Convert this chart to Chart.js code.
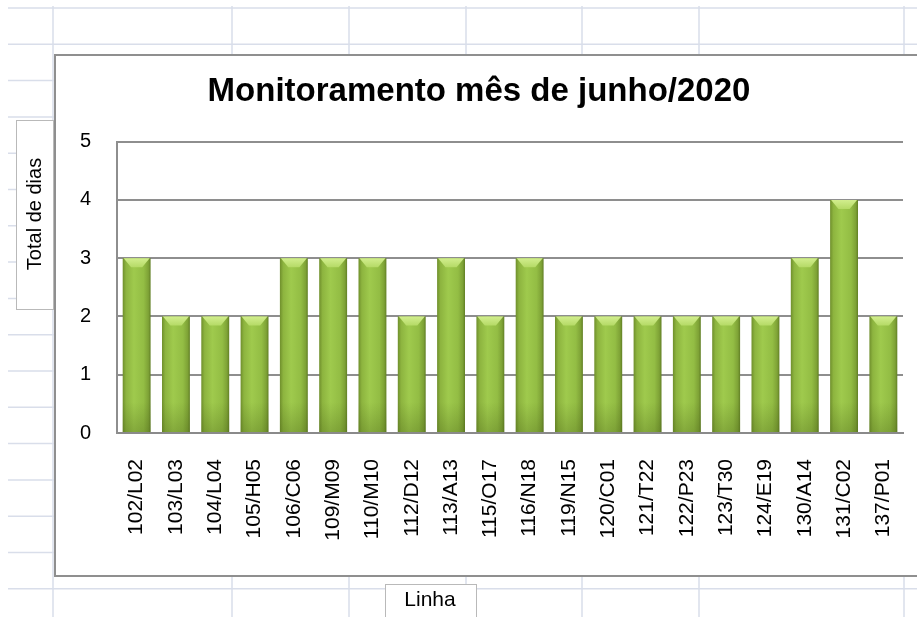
<!DOCTYPE html>
<html>
<head>
<meta charset="utf-8">
<title>Monitoramento</title>
<script src="https://cdn.jsdelivr.net/npm/chart.js@4.4.0/dist/chart.umd.min.js"></script>
<style>
  body { margin: 0; background: #fff; }
  canvas { display: block; }
</style>
</head>
<body>
<canvas id="grafico" width="917" height="617"></canvas>
<script>
// dados
var linhas = ['102/L02', '103/L03', '104/L04', '105/H05', '106/C06', '109/M09', '110/M10', '112/D12',
  '113/A13', '115/O17', '116/N18', '119/N15', '120/C01', '121/T22', '122/P23', '123/T30',
  '124/E19', '130/A14', '131/C02', '137/P01'];
var totalDias = [3, 2, 2, 2, 3, 3, 3, 2, 3, 2, 3, 2, 2, 2, 2, 2, 2, 3, 4, 2];
var ticksY = [0, 1, 2, 3, 4, 5];

var tituloGrafico = 'Monitoramento mês de junho/2020';
var tituloY = 'Total de dias';
var tituloX = 'Linha';

var fonte = '"Liberation Sans", Arial, sans-serif';
var larguraBarra = 0.71;

// fundo de planilha, moldura do gráfico e caixas dos títulos dos eixos
var fundoPlanilha = {
  id: 'fundoPlanilha',
  beforeDraw: function(chart) {
    var ctx = chart.ctx;
    ctx.save();
    ctx.fillStyle = '#fff';
    ctx.fillRect(0, 0, chart.width, chart.height);

    ctx.strokeStyle = '#d9deea';
    ctx.lineWidth = 1.5;
    for (var y = 8; y < chart.height; y += 36.3) {
      ctx.beginPath(); ctx.moveTo(8, y); ctx.lineTo(chart.width, y); ctx.stroke();
    }
    [53, 232, 349, 466, 582, 699, 904].forEach(function(x) {
      ctx.beginPath(); ctx.moveTo(x, 6); ctx.lineTo(x, chart.height); ctx.stroke();
    });

    // área do gráfico
    ctx.fillStyle = '#fff';
    ctx.fillRect(55, 55, chart.width, 521);
    ctx.strokeStyle = '#8f8f8f';
    ctx.lineWidth = 2;
    ctx.strokeRect(55, 55, chart.width, 521);

    // caixa do título Y
    ctx.fillStyle = '#fff';
    ctx.fillRect(16, 120, 37, 189);
    ctx.strokeStyle = '#b9b9b9';
    ctx.lineWidth = 1;
    ctx.strokeRect(16.5, 120.5, 37, 189);

    // caixa do título X
    ctx.fillRect(385, 584, 91, 40);
    ctx.strokeRect(385.5, 584.5, 91, 40);

    ctx.fillStyle = '#000';
    ctx.font = '20px ' + fonte;
    ctx.textAlign = 'center';
    ctx.textBaseline = 'middle';
    ctx.save();
    ctx.translate(35, 214);
    ctx.rotate(-Math.PI / 2);
    ctx.fillText(tituloY, 0, 0);
    ctx.restore();

    ctx.font = '21px ' + fonte;
    ctx.fillText(tituloX, 430, 600);
    ctx.restore();
  }
};

// brilho no topo e sombra na base das barras
var relevoBarras = {
  id: 'relevoBarras',
  afterDatasetsDraw: function(chart) {
    var ctx = chart.ctx;
    var meta = chart.getDatasetMeta(0);
    ctx.save();
    meta.data.forEach(function(bar) {
      var p = bar.getProps(['x', 'y', 'base', 'width'], true);
      var l = p.x - p.width / 2, r = p.x + p.width / 2;
      var g = ctx.createLinearGradient(0, p.y, 0, p.y + 10);
      g.addColorStop(0, '#d2ee8e');
      g.addColorStop(1, '#b2d862');
      ctx.fillStyle = g;
      ctx.beginPath();
      ctx.moveTo(l + 1, p.y);
      ctx.lineTo(r - 1, p.y);
      ctx.lineTo(r - p.width * 0.3, p.y + 9);
      ctx.lineTo(l + p.width * 0.3, p.y + 9);
      ctx.closePath();
      ctx.fill();

      var s = ctx.createLinearGradient(0, p.base - 30, 0, p.base);
      s.addColorStop(0, 'rgba(70,95,20,0)');
      s.addColorStop(1, 'rgba(70,95,20,0.3)');
      ctx.fillStyle = s;
      ctx.fillRect(l, p.base - 30, p.width, 30);
    });
    ctx.restore();
  }
};

function corBarra(c) {
  var chart = c.chart;
  var area = chart.chartArea;
  if (!area || c.type !== 'data') return '#94bf45';
  var cx = chart.scales.x.getPixelForValue(c.dataIndex);
  var w = area.width / linhas.length * larguraBarra;
  var g = chart.ctx.createLinearGradient(cx - w / 2, 0, cx + w / 2, 0);
  g.addColorStop(0, '#6f8f2c');
  g.addColorStop(0.12, '#8db43f');
  g.addColorStop(0.4, '#9fca4d');
  g.addColorStop(0.75, '#93bd44');
  g.addColorStop(0.92, '#7ea236');
  g.addColorStop(1, '#617f25');
  return g;
}

var ctx = document.getElementById('grafico');
var grafico = new Chart(ctx, {
  type: 'bar',
  data: {
    labels: linhas,
    datasets: [{
      label: tituloY,
      data: totalDias,
      backgroundColor: corBarra,
      borderWidth: 0,
      barPercentage: larguraBarra,
      categoryPercentage: 1
    }]
  },
  options: {
    responsive: false,
    animation: false,
    layout: { padding: { left: 55, top: 55, right: 14, bottom: 0 } },
    plugins: {
      legend: { display: false },
      tooltip: { enabled: false },
      title: {
        display: true,
        text: tituloGrafico,
        color: '#000',
        font: { family: fonte, size: 33, weight: 'bold' },
        padding: { top: 17, bottom: 30 }
      }
    },
    scales: {
      x: {
        grid: { display: false, drawTicks: false },
        border: { display: true, color: '#8a8a8a', width: 2 },
        ticks: {
          autoSkip: false, minRotation: 90, maxRotation: 90, padding: 26,
          color: '#000', font: { family: fonte, size: 21 }
        },
        afterFit: function(s) {
          s.height = 184;
          s.paddingLeft = 0;
          s.paddingRight = 0;
        }
      },
      y: {
        min: 0, max: 5,
        grid: { color: '#8e8e8e', lineWidth: 2, drawTicks: false, tickLength: 0 },
        border: { display: true, color: '#8e8e8e', width: 2 },
        ticks: { padding: 26, color: '#000', font: { family: fonte, size: 20 } },
        afterBuildTicks: function(s) { s.ticks = ticksY.map(function(v) { return { value: v }; }); },
        afterFit: function(s) { s.width = 62; }
      }
    }
  },
  plugins: [fundoPlanilha, relevoBarras]
});
</script>
</body>
</html>
